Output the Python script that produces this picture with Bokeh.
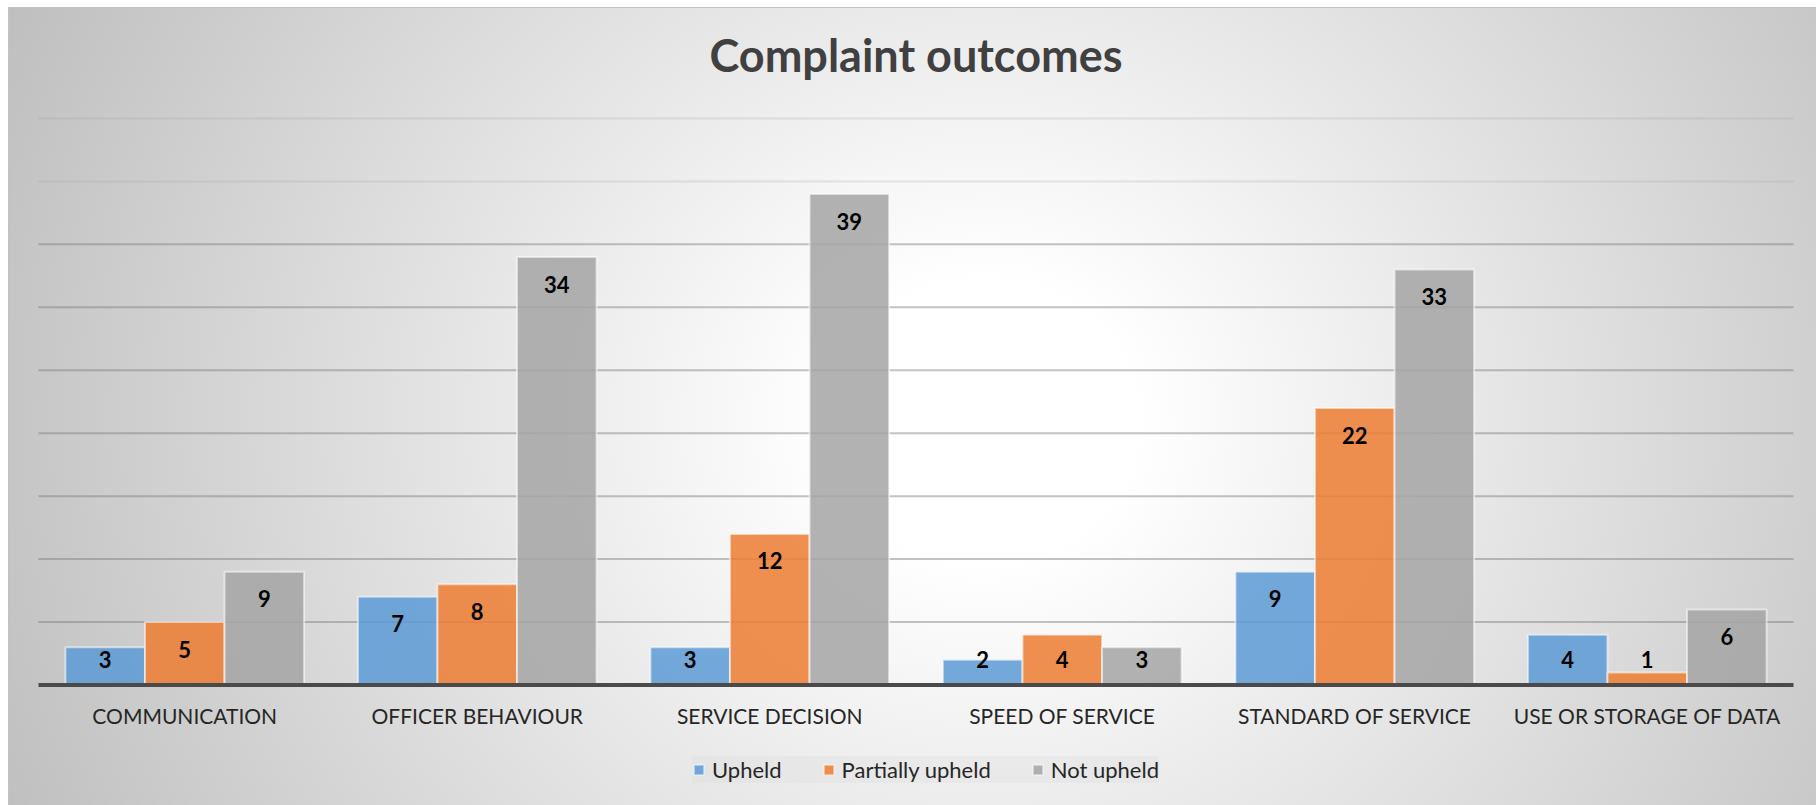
from bokeh.plotting import figure
from bokeh.models import ColumnDataSource, Range1d, Legend, LegendItem
from bokeh.core.properties import value
from bokeh.embed import file_html
from bokeh.resources import INLINE

categories = ["COMMUNICATION", "OFFICER BEHAVIOUR", "SERVICE DECISION",
              "SPEED OF SERVICE", "STANDARD OF SERVICE", "USE OR STORAGE OF DATA"]
series_names = ["Upheld", "Partially upheld", "Not upheld"]
upheld = [3, 7, 3, 2, 9, 4]
partially_upheld = [5, 8, 12, 4, 22, 1]
not_upheld = [9, 34, 39, 3, 33, 6]
colors = ["#5B9BD5", "#ED7D31", "#A5A5A5"]
title_text = "Complaint outcomes"
grid_ticks_dark = [5, 10, 15, 20, 25, 30, 35]
grid_ticks_light = [40, 45]

FONT = "Lato"
W, H = 1808, 798
PX_PER_CAT = 292.5
PX_PER_UNIT = 12.59
LEFT_PX, BASE_PX = 30, 677.5
x_start = -LEFT_PX / PX_PER_CAT
x_end = x_start + W / PX_PER_CAT
y_end = BASE_PX / PX_PER_UNIT
y_start = -(H - BASE_PX) / PX_PER_UNIT
n = len(categories)

p = figure(x_range=Range1d(x_start, x_end), y_range=Range1d(y_start, y_end),
           width=W, height=H, output_backend="svg", toolbar_location=None,
           min_border=0)
p.background_fill_color = None
p.border_fill_color = None
p.outline_line_color = None
p.xaxis.visible = False
p.yaxis.visible = False
p.xgrid.visible = False
p.ygrid.visible = False
p.styles = {
    "background-image": "radial-gradient(ellipse 60% 125% at 54% 52%, #ffffff 0%, #ffffff 14%, #bebebe 100%)",
    "box-shadow": "inset 1px 1px 0 #c2c2c2",
    "margin-left": "8px",
    "margin-top": "7px",
}

# horizontal gridlines across the plot area
p.segment(x0=[0] * len(grid_ticks_dark), y0=grid_ticks_dark,
          x1=[n] * len(grid_ticks_dark), y1=grid_ticks_dark,
          line_color="#7a7a7a", line_alpha=0.45, line_width=2)
p.segment(x0=[0] * len(grid_ticks_light), y0=grid_ticks_light,
          x1=[n] * len(grid_ticks_light), y1=grid_ticks_light,
          line_color="#9a9a9a", line_alpha=0.22, line_width=2)

centers = [i + 0.5 for i in range(n)]
BW = 0.272
offsets = [-BW, 0.0, BW]
series = [upheld, partially_upheld, not_upheld]

items = []
for i, vals in enumerate(series):
    xs = [c + offsets[i] for c in centers]
    src = ColumnDataSource(dict(x=xs, top=vals,
                                ly=[max(v, 4.2) - 2.15 for v in vals],
                                lt=[str(v) for v in vals]))
    r = p.vbar(x="x", top="top", bottom=0, width=BW, source=src,
               fill_color=colors[i], fill_alpha=0.85,
               line_color="#ffffff", line_alpha=0.55, line_width=2)
    items.append(LegendItem(label=series_names[i], renderers=[r]))
    p.text(x="x", y="ly", text="lt", source=src, text_align="center",
           text_baseline="middle", text_font=value(FONT), text_font_style="bold",
           text_font_size="22px", text_color="#000000")

# baseline (category axis line)
p.segment(x0=[0], y0=[0], x1=[n], y1=[0], line_color="#4a4a4a", line_width=4)

# category labels
p.text(x=centers, y=[-30 / PX_PER_UNIT] * n, text=categories, text_align="center",
       text_baseline="middle", text_font=value(FONT), text_font_size="21px",
       text_color="#262626")

# title
p.text(x=[3.0], y=[(BASE_PX - 47) / PX_PER_UNIT], text=[title_text], text_align="center",
       text_baseline="middle", text_font=value(FONT), text_font_style="bold",
       text_font_size="45px", text_color="#404040")

legend = Legend(items=items, orientation="horizontal", location=(684, 22),
                label_text_font=FONT, label_text_font_size="22px",
                label_text_color="#262626",
                glyph_width=13, glyph_height=13, label_standoff=7, spacing=40,
                padding=10, margin=0,
                background_fill_color="#d8d8d8", background_fill_alpha=0.25,
                border_line_color=None)
p.add_layout(legend)

open("out.html", "w").write(file_html(p, INLINE))
